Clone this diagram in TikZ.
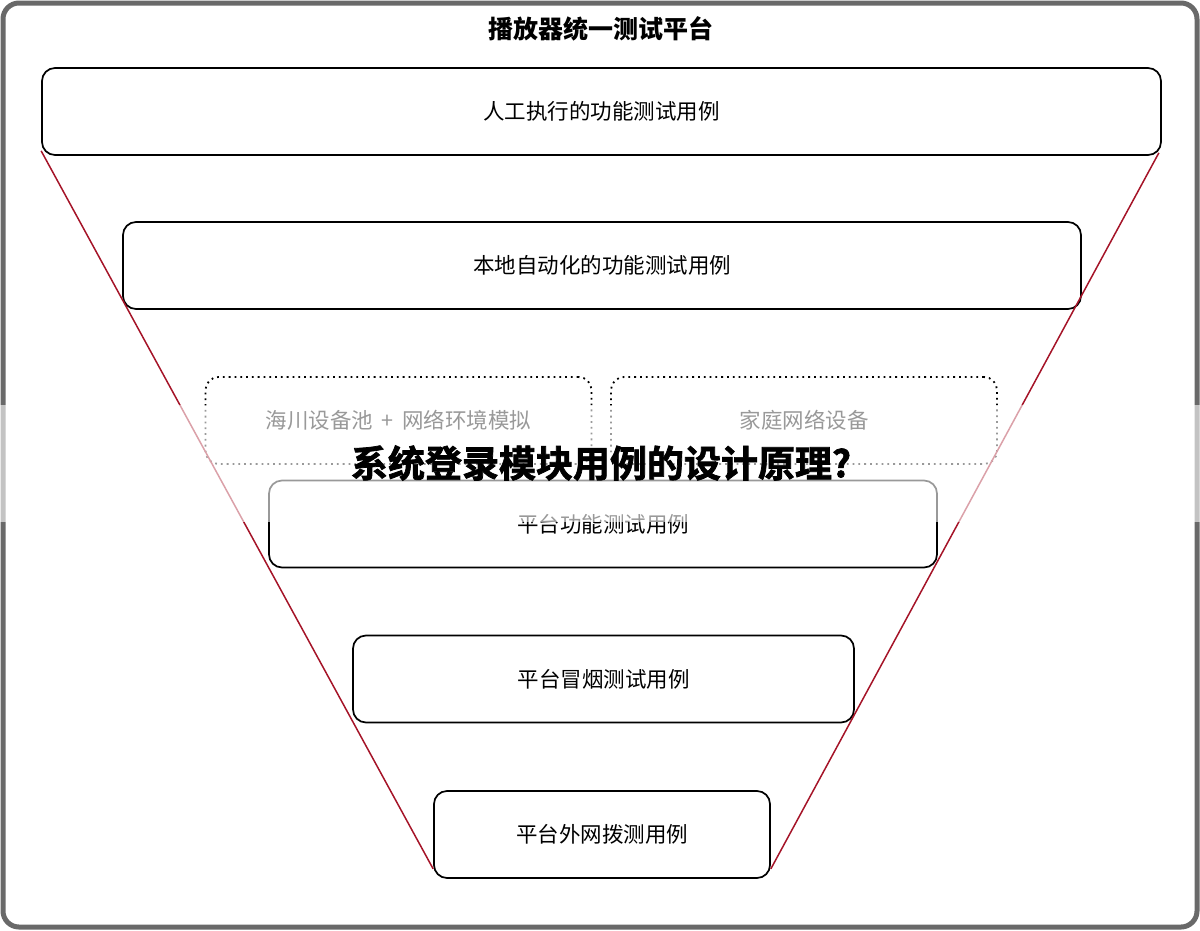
\documentclass[tikz,border=0pt]{standalone}
\usepackage{fontspec}
\setmainfont{Noto Sans CJK SC}
\newfontfamily\heavyfont[FakeBold=2]{Noto Sans CJK SC Bold}
\usepackage{tikz}
\usetikzlibrary{shapes,arrows}
\definecolor{funnelred}{RGB}{165,20,40}
\definecolor{framegray}{RGB}{105,105,105}

\begin{document}
\begin{tikzpicture}[x=1pt,y=-1pt,
    block_solid/.style ={rectangle, rounded corners=13pt, draw=black, line width=1.7pt,
      inner sep=0pt, minimum height=87pt, font=\fontsize{21.5}{26}\selectfont},
    block_dotted/.style ={rectangle, rounded corners=13pt, draw=black, line width=1.8pt,
      dash pattern=on 1.8pt off 4pt, inner sep=0pt, minimum width=386pt,
      minimum height=87pt, font=\fontsize{21.5}{26}\selectfont},
    block_title/.style ={draw=none, inner sep=0pt, font=\fontsize{25}{30}\selectfont\bfseries},
    line/.style ={draw=funnelred, line width=1.5pt}]
    \useasboundingbox (0,0) rectangle (1200,930);
    % outer frame
    \draw[framegray, line width=5pt, rounded corners=16pt] (3,3) rectangle (1197,927);
    \node [block_title] (platform) at (601,29) {播放器统一测试平台};
    % the funnel levels
    \node [block_solid, minimum width=1119pt] (manual) at (601.5,111.5) {人工执行的功能测试用例};
    \node [block_solid, minimum width=958pt] (localauto) at (602,265.5) {本地自动化的功能测试用例};
    \node [block_dotted] (devpool) at (398.5,420.5) {海川设备池 \,+\, 网络环境模拟};
    \node [block_dotted] (homenet) at (804,420.5) {家庭网络设备};
    \node [block_solid, minimum width=668pt] (platfunc) at (603,524) {平台功能测试用例};
    \node [block_solid, minimum width=501pt] (smoke) at (603.5,679) {平台冒烟测试用例};
    \node [block_solid, minimum width=336pt] (dialtest) at (602,834.5) {平台外网拨测用例};
    % funnel sides
    \begin{scope}[every path/.style=line]
      \path ([yshift=5pt]manual.south west) -- ([yshift=10pt]dialtest.south west);
      \path ([shift={(-3pt,3pt)}]manual.south east) -- ([yshift=10pt]dialtest.south east);
    \end{scope}
    % banner laid over the middle
    \fill[white, opacity=0.6] (0,405) rectangle (1200,522);
    \node [inner sep=0pt, font=\fontsize{37}{40}\selectfont\heavyfont] (banner) at (601,463) {系统登录模块用例的设计原理?};
  \end{tikzpicture}
\end{document}
